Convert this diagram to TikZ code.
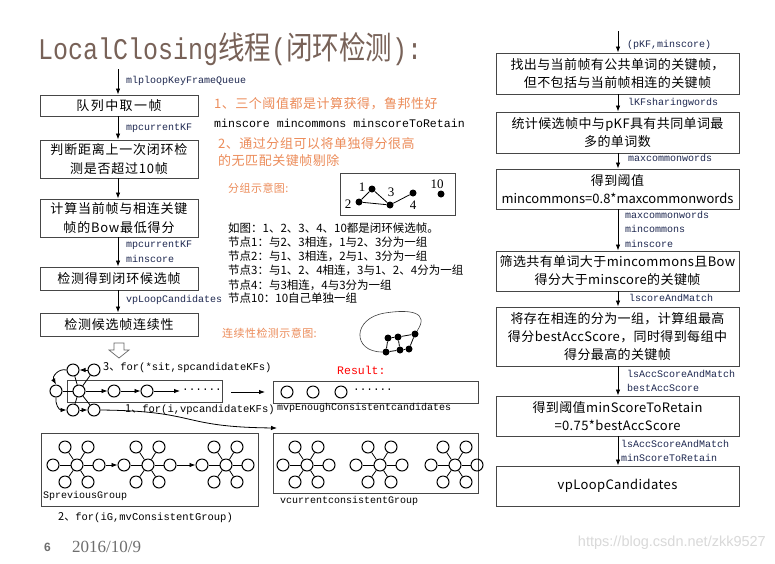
\documentclass[tikz,border=0pt]{standalone}
\usepackage{fontspec}
\usepackage{graphicx}
\setmainfont{Noto Sans CJK SC}
\newfontfamily\monof{Liberation Mono}
\newfontfamily\serifL{Liberation Serif}
\newfontfamily\sansL{Liberation Sans}
\usetikzlibrary{arrows.meta}
\definecolor{lblc}{RGB}{30,40,80}
\definecolor{orng}{RGB}{236,140,90}
\definecolor{titlec}{RGB}{120,98,88}
\definecolor{boxc}{RGB}{70,70,70}
\definecolor{footc}{RGB}{110,110,110}
\begin{document}
\begin{tikzpicture}[x=1pt,y=-1pt,
  lbox/.style={draw=boxc, line width=0.9pt, minimum width=158pt, inner sep=1pt, align=center,
    font=\fontsize{13}{19}\selectfont\addfontfeature{LetterSpace=6}},
  rbox/.style={draw=boxc, line width=0.9pt, minimum width=243pt, inner sep=1pt, align=center,
    font=\fontsize{13}{18}\selectfont\addfontfeature{LetterSpace=3}},
  arr/.style={-{Latex[length=6pt,width=4.5pt]}, line width=0.8pt},
  lbl/.style={anchor=west, text=lblc, font=\monof\fontsize{10}{12}\selectfont, inner sep=0pt},
  otxt/.style={anchor=west, text=orng, inner sep=0pt, font=\fontsize{13}{15}\selectfont\addfontfeature{LetterSpace=4}},
  ntxt/.style={anchor=west, inner sep=0pt, font=\fontsize{11.5}{13}\selectfont},
  circ/.style={circle, draw, line width=1pt, minimum size=12pt, inner sep=0pt},
  dot/.style={circle, fill, minimum size=7pt, inner sep=0pt},
  edge/.style={line width=0.8pt},
  frame/.style={draw=boxc, line width=0.8pt}
]
\useasboundingbox (0,0) rectangle (775,563);
\fill[white] (0,0) rectangle (775,563);

% title
\node[anchor=base west, inner sep=0pt, text=titlec] (title) at (38,59)
  {\scalebox{1}[1.2]{{\monof\fontsize{25}{28}\selectfont LocalClosing}{\fontsize{26.5}{28}\selectfont 线程}{\monof\fontsize{25}{28}\selectfont (}{\fontsize{26.5}{28}\selectfont 闭环检测}{\monof\fontsize{25}{28}\selectfont ):}}};

% left column
\coordinate (ltop) at (118,69);
\node[lbox, minimum height=21pt, font=\fontsize{13}{19}\selectfont\addfontfeature{LetterSpace=11}] (b1) at (119,105.5) {队列中取一帧};
\node[lbox, minimum height=38pt] (b2) at (119,159) {判断距离上一次闭环检\\测是否超过10帧};
\node[lbox, minimum height=38pt] (b3) at (119,218) {计算当前帧与相连关键\\帧的Bow最低得分};
\node[lbox, minimum height=23pt] (b4) at (119,278.5) {检测得到闭环候选帧};
\node[lbox, minimum height=23pt] (b5) at (119,324.5) {检测候选帧连续性};
\draw[arr] (ltop) -- (b1.north -| ltop);
\draw[arr] (b1.south -| ltop) -- (b2.north -| ltop);
\draw[arr] (b2.south -| ltop) -- (b3.north -| ltop);
\draw[arr] (b3.south -| ltop) -- (b4.north -| ltop);
\draw[arr] (b4.south -| ltop) -- (b5.north -| ltop);
\node[lbl] (l1) at (126,81) {mlploopKeyFrameQueue};
\node[lbl] (l2) at (126,128) {mpcurrentKF};
\node[lbl] (l3) at (126,245) {mpcurrentKF};
\node[lbl] (l4) at (126,259) {minscore};
\node[lbl] (l5) at (126,300) {vpLoopCandidates};

% hollow arrow
\draw[line width=0.7pt, draw=black!60, fill=white] (114,343) -- (124,343) -- (124,350) -- (129,350) -- (119,358) -- (109,350) -- (114,350) -- cycle;

% middle notes
\node[otxt] (n1) at (214,104) {1、三个阈值都是计算获得，鲁邦性好};
\node[anchor=west, inner sep=0pt, font=\monof\fontsize{11.6}{13}\selectfont] (n2) at (214,123) {minscore mincommons minscoreToRetain};
\node[otxt] (n3) at (218,144) {2、通过分组可以将单独得分很高};
\node[otxt] (n4) at (218,161) {的无匹配关键帧剔除};
\node[otxt, font=\fontsize{11}{13}\selectfont\addfontfeature{LetterSpace=4}] (n5) at (228,188) {分组示意图:};

% group diagram
\draw[frame] (340,173) rectangle (455,215);
\node[dot] (g1) at (372,189) {};
\node[dot] (g2) at (359,202) {};
\node[dot] (g3) at (390,205) {};
\node[dot] (g4) at (413,193) {};
\node[dot] (g10) at (441,194) {};
\draw[edge] (g2) -- (g1) -- (g3) -- (g4);
\draw[edge] (g2) -- (g3);
\node[inner sep=0pt, font=\serifL\fontsize{13}{14}\selectfont] (t1) at (362,187) {1};
\node[inner sep=0pt, font=\serifL\fontsize{13}{14}\selectfont] (t2) at (348,204) {2};
\node[inner sep=0pt, font=\serifL\fontsize{13}{14}\selectfont] (t3) at (391,192) {3};
\node[inner sep=0pt, font=\serifL\fontsize{13}{14}\selectfont] (t4) at (413,205) {4};
\node[inner sep=0pt, font=\serifL\fontsize{13}{14}\selectfont] (t10) at (437,184) {10};

\node[ntxt] (d1) at (228,228) {如图：1、2、3、4、10都是闭环候选帧。};
\node[ntxt] (d2) at (228,242) {节点1：与2、3相连，1与2、3分为一组};
\node[ntxt] (d3) at (228,256) {节点2：与1、3相连，2与1、3分为一组};
\node[ntxt] (d4) at (228,270) {节点3：与1、2、4相连，3与1、2、4分为一组};
\node[ntxt] (d5) at (228,285) {节点4：与3相连，4与3分为一组};
\node[ntxt] (d6) at (228,298) {节点10：10自己单独一组};

\node[otxt, font=\fontsize{11}{13}\selectfont\addfontfeature{LetterSpace=4}] (n6) at (222,333) {连续性检测示意图:};

% consistency sketch
\node[dot] (ca) at (388,338) {};
\node[dot] (cb) at (398,337) {};
\node[dot] (cc) at (415,334) {};
\node[dot] (cd) at (386,352) {};
\node[dot] (ce) at (400,350) {};
\node[dot] (cf) at (409,349) {};
\draw[edge] (ca) -- (cb) -- (cc);
\draw[edge] (cd) -- (ce) -- (cf);
\draw[edge] (ca) -- (cd);
\draw[edge] (cb) -- (ce);
\draw[edge] (cc) -- (cf);
\draw[line width=0.6pt, draw=black!75] (cd) .. controls (352,352) and (352,318) .. (385,313)
  .. controls (410,309) and (430,312) .. (cc);

% loop diagram
\draw[frame] (67,380) rectangle (222,402);
\node[circ] (lt1) at (73,370) {};
\node[circ] (lt2) at (94,370) {};
\node[circ] (ll) at (56,391) {};
\node[circ] (lc) at (79,391) {};
\node[circ] (lb1) at (73,410) {};
\node[circ] (lb2) at (94,410) {};
\node[circ] (ch1) at (114,391) {};
\node[circ] (ch2) at (147,391) {};
\coordinate (chend) at (180,391);
\node[anchor=west, inner sep=0pt, font=\monof\fontsize{11}{12}\selectfont] (chdots) at (182,390) {......};
\draw[edge] (lc) -- (lt1);
\draw[edge] (lc) -- (lt2);
\draw[edge] (lc) -- (ll);
\draw[edge] (lc) -- (lb1);
\draw[edge] (lc) -- (lb2);
\draw[arr] (lt2) -- (lt1);
\draw[arr] (lb1) -- (lb2);
\draw[arr] (lc) -- (ch1);
\draw[arr] (ch1) -- (ch2);
\draw[arr] (ch2) -- (chend);
\draw[arr] (lt1.west) .. controls (58,368) and (52,377) .. (ll.north);
\draw[arr] (ll.south) .. controls (55,404) and (59,410) .. (lb1.west);
\node[anchor=west, inner sep=0pt, font=\monof\fontsize{10.5}{12}\selectfont] (f3) at (103,368) {{\rmfamily\fontsize{11}{12}\selectfont 3、}for(*sit,spcandidateKFs)};
\node[anchor=west, inner sep=0pt, font=\monof\fontsize{10.5}{12}\selectfont] (f1) at (125,410) {{\rmfamily\fontsize{11}{12}\selectfont 1、}for(i,vpcandidateKFs)};

% result
\coordinate (ra1) at (231,392);
\coordinate (ra2) at (265,392);
\draw[arr] (ra1) -- (ra2);
\node[anchor=west, inner sep=0pt, text=red, font=\monof\fontsize{11.5}{13}\selectfont] (res) at (337,370) {Result:};
\draw[frame] (273,381) rectangle (478,403);
\node[circ] (r1) at (287,392) {};
\node[circ] (r2) at (313,392) {};
\node[circ] (r3) at (341,392) {};
\node[anchor=west, inner sep=0pt, font=\monof\fontsize{11}{12}\selectfont] (rdots) at (353,390) {......};
\node[lbl, text=black] (mvp) at (277,408) {mvpEnoughConsistentcandidates};

% long curve
\coordinate (cend) at (277,428);
\draw[arr] (lb2.east) .. controls (200,411) and (178,427) .. (cend);

% groups
\draw[frame] (41,433) rectangle (258,506);
\draw[frame] (273,433) rectangle (478,493);
\foreach \n/\x in {sa/77,sb/148,sc/226,sd/307,se/380,sf/455}{
  \node[circ] (\n0) at (\x,465) {};
  \node[circ] (\n1) at (\x-12,447) {};
  \node[circ] (\n2) at (\x+11,447) {};
  \node[circ] (\n3) at (\x-24,465) {};
  \node[circ] (\n4) at (\x+22,465) {};
  \node[circ] (\n5) at (\x-12,482) {};
  \node[circ] (\n6) at (\x+11,482) {};
  \foreach \k in {1,...,6}{\draw[edge] (\n0) -- (\n\k);}
}
\draw[arr] (sa4) -- (sb3);
\draw[arr] (sb4) -- (sc3);
\node[lbl, text=black] (spg) at (43,496) {SpreviousGroup};
\node[lbl, text=black] (vcg) at (280,501) {vcurrentconsistentGroup};
\node[anchor=west, inner sep=0pt, font=\monof\fontsize{10.5}{12}\selectfont] (f2) at (58,518) {{\rmfamily\fontsize{11}{12}\selectfont 2、}for(iG,mvConsistentGroup)};

% right column
\coordinate (rtop) at (618,31);
\node[rbox, minimum height=41pt] (rA) at (617.5,73.5) {找出与当前帧有公共单词的关键帧，\\但不包括与当前帧相连的关键帧};
\node[rbox, minimum height=41pt] (rB) at (617.5,132.5) {统计候选帧中与pKF具有共同单词最\\多的单词数};
\node[rbox, minimum height=40pt] (rC) at (617.5,189) {得到阈值\\{\addfontfeature{LetterSpace=0}mincommons=0.8*maxcommonwords}};
\node[rbox, minimum height=40pt] (rD) at (617.5,271) {筛选共有单词大于mincommons且Bow\\得分大于minscore的关键帧};
\node[rbox, minimum height=59pt] (rE) at (617.5,336.5) {将存在相连的分为一组，计算组最高\\得分bestAccScore，同时得到每组中\\得分最高的关键帧};
\node[rbox, minimum height=40pt] (rF) at (617.5,416) {得到阈值minScoreToRetain\\=0.75*bestAccScore};
\node[rbox, minimum height=40pt] (rG) at (617.5,486) {vpLoopCandidates};
\draw[arr] (rtop) -- (rA.north -| rtop);
\draw[arr] (rA.south -| rtop) -- (rB.north -| rtop);
\draw[arr] (rB.south -| rtop) -- (rC.north -| rtop);
\draw[arr] (rC.south -| rtop) -- (rD.north -| rtop);
\draw[arr] (rD.south -| rtop) -- (rE.north -| rtop);
\draw[arr] (rE.south -| rtop) -- (rF.north -| rtop);
\draw[arr] (rF.south -| rtop) -- (rG.north -| rtop);
\node[lbl] (ra) at (627,45) {(pKF,minscore)};
\node[lbl] (rb) at (628,103) {lKFsharingwords};
\node[lbl] (rc) at (628,158) {maxcommonwords};
\node[lbl] (rd1) at (625,215) {maxcommonwords};
\node[lbl] (rd2) at (625,229) {mincommons};
\node[lbl] (rd3) at (625,244) {minscore};
\node[lbl] (re) at (629,298) {lscoreAndMatch};
\node[lbl] (rf1) at (627,374) {lsAccScoreAndMatch};
\node[lbl] (rf2) at (627,388) {bestAccScore};
\node[lbl] (rg1) at (621,444) {lsAccScoreAndMatch};
\node[lbl] (rg2) at (621,458) {minScoreToRetain};

% footer
\node[anchor=west, inner sep=0pt, text=footc, font=\sansL\bfseries\fontsize{12}{14}\selectfont] (pg) at (44,547) {6};
\node[anchor=west, inner sep=0pt, text=footc, font=\serifL\fontsize{17}{19}\selectfont] (dt) at (72,547) {2016/10/9};
\node[anchor=east, inner sep=0pt, text=black!15, font=\sansL\fontsize{14.5}{16}\selectfont] (wm) at (766,543) {https://blog.csdn.net/zkk9527};
\end{tikzpicture}
\end{document}
